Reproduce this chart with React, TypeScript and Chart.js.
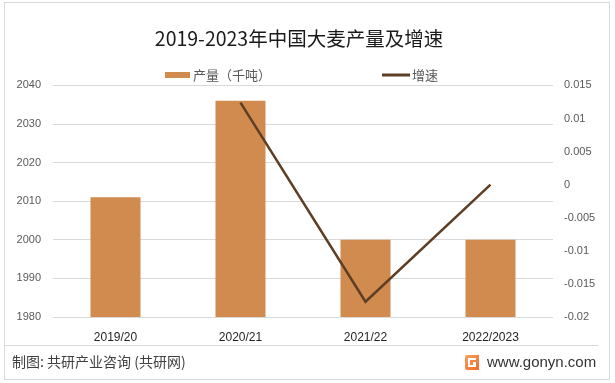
import React, { useEffect, useRef } from 'react';
import { Chart, registerables } from 'chart.js';

Chart.register(...registerables);

const titleText = '2019-2023年中国大麦产量及增速';
const categories = ['2019/20', '2020/21', '2021/22', '2022/2023'];
const production = [2011, 2036, 2000, 2000];
const growth: (number | null)[] = [null, 0.0124, -0.0177, 0];
const leftTicks = [1980, 1990, 2000, 2010, 2020, 2030, 2040];
const rightTicks = [-0.02, -0.015, -0.01, -0.005, 0, 0.005, 0.01, 0.015];
const seriesNames = ['产量（千吨）', '增速'];
const footerLeft = '制图: 共研产业咨询 (共研网)';
const footerRight = 'www.gonyn.com';

const BAR_COLOR = '#D18B4F';
const LINE_COLOR = '#5E3E24';
const CJK = '"Noto Sans CJK SC", "Noto Sans", sans-serif';
const LATIN = '"Liberation Sans", Arial, sans-serif';

const framePlugin = {
  id: 'frame',
  beforeDraw(chart: any) {
    const ctx = chart.ctx;
    ctx.save();
    ctx.fillStyle = '#ffffff';
    ctx.fillRect(0, 0, chart.width, chart.height);
    ctx.restore();
  },
  afterDraw(chart: any) {
    const ctx = chart.ctx;
    ctx.save();
    // outer border
    ctx.strokeStyle = '#D9D9D9';
    ctx.lineWidth = 1;
    ctx.strokeRect(4.5, 2.5, 605, 377);
    // separator
    ctx.beginPath();
    ctx.moveTo(4, 345.5);
    ctx.lineTo(598, 345.5);
    ctx.stroke();
    // legend
    const ds = chart.data.datasets;
    const barDs = ds.find((d: any) => d.type === 'bar');
    const lineDs = ds.find((d: any) => d.type === 'line');
    ctx.textBaseline = 'middle';
    ctx.textAlign = 'left';
    ctx.font = '13px ' + CJK;
    ctx.fillStyle = barDs.backgroundColor;
    ctx.fillRect(165, 72, 25, 6);
    ctx.fillStyle = '#595959';
    ctx.fillText(barDs.label, 193, 75);
    ctx.strokeStyle = lineDs.borderColor;
    ctx.lineWidth = 3;
    ctx.beginPath();
    ctx.moveTo(382, 75);
    ctx.lineTo(410, 75);
    ctx.stroke();
    ctx.fillStyle = '#595959';
    ctx.fillText(lineDs.label, 412, 75);
    // footer
    ctx.fillStyle = '#404040';
    ctx.font = '14px ' + CJK;
    ctx.fillText(footerLeft, 12, 362);
    ctx.font = '15px ' + LATIN;
    ctx.fillStyle = '#333333';
    ctx.fillText(footerRight, 487, 363);
    // logo
    const g = ctx.createLinearGradient(465, 355, 479, 370);
    g.addColorStop(0, '#F7A35C');
    g.addColorStop(1, '#EE6A2E');
    ctx.fillStyle = g;
    ctx.beginPath();
    ctx.moveTo(467, 355);
    ctx.lineTo(479, 355);
    ctx.lineTo(479, 370);
    ctx.lineTo(467, 370);
    ctx.quadraticCurveTo(465, 370, 465, 368);
    ctx.lineTo(465, 357);
    ctx.quadraticCurveTo(465, 355, 467, 355);
    ctx.fill();
    ctx.fillStyle = '#ffffff';
    ctx.fillRect(468, 358, 8, 2);
    ctx.fillRect(468, 358, 2, 9);
    ctx.fillRect(468, 365, 8, 2);
    ctx.fillRect(473, 362, 3, 5);
    ctx.restore();
  },
};

export default function App() {
  const ref = useRef<HTMLCanvasElement>(null);
  useEffect(() => {
    if (!ref.current) return;
    const chart = new Chart(ref.current, {
      type: 'bar',
      data: {
        labels: categories,
        datasets: [
          {
            type: 'line',
            label: seriesNames[1],
            data: growth,
            yAxisID: 'y1',
            borderColor: LINE_COLOR,
            backgroundColor: LINE_COLOR,
            borderWidth: 2.5,
            pointRadius: 0,
            tension: 0,
            order: 0,
          } as any,
          {
            type: 'bar',
            label: seriesNames[0],
            data: production,
            yAxisID: 'y',
            backgroundColor: BAR_COLOR,
            barPercentage: 0.4,
            categoryPercentage: 1,
            order: 1,
          },
        ],
      },
      plugins: [framePlugin],
      options: {
        responsive: false,
        animation: false,
        layout: { padding: { left: 0, right: 17, top: 0, bottom: 0 } },
        plugins: {
          legend: { display: false },
          tooltip: { enabled: false },
          title: {
            display: true,
            text: titleText,
            color: '#1a1a1a',
            font: { size: 19.5, family: CJK, weight: 'normal' },
            padding: { top: 27, bottom: 35 },
          },
        },
        scales: {
          x: {
            grid: { display: false },
            border: { display: false },
            ticks: {
              color: '#1f1f1f',
              font: { size: 12, family: LATIN },
              padding: 5,
              maxRotation: 0,
            },
            afterFit: (s: any) => {
              s.height = 66;
            },
          },
          y: {
            position: 'left',
            min: leftTicks[0],
            max: leftTicks[leftTicks.length - 1],
            grid: { color: '#D9D9D9', drawTicks: false, lineWidth: 1 },
            border: { display: false },
            ticks: {
              stepSize: leftTicks[1] - leftTicks[0],
              color: '#595959',
              font: { size: 11, family: LATIN },
              padding: 12,
              callback: (v: any) => String(v),
            },
            afterFit: (s: any) => {
              s.width = 53;
            },
          },
          y1: {
            position: 'right',
            min: rightTicks[0],
            max: rightTicks[rightTicks.length - 1],
            grid: { display: false, drawTicks: false },
            border: { display: false },
            ticks: {
              stepSize: 0.005,
              color: '#595959',
              font: { size: 11, family: LATIN },
              padding: 11,
              callback: (v: any) => {
                let best = rightTicks[0];
                for (const t of rightTicks) if (Math.abs(t - v) < Math.abs(best - v)) best = t;
                return String(best);
              },
            },
            afterFit: (s: any) => {
              s.width = 45;
            },
          },
        },
      },
    });
    return () => chart.destroy();
  }, []);
  return (
    <div style={{ position: 'absolute', left: 0, top: 0, width: 615, height: 383 }}>
      <canvas ref={ref} width={615} height={383} style={{ display: 'block' }} />
    </div>
  );
}
